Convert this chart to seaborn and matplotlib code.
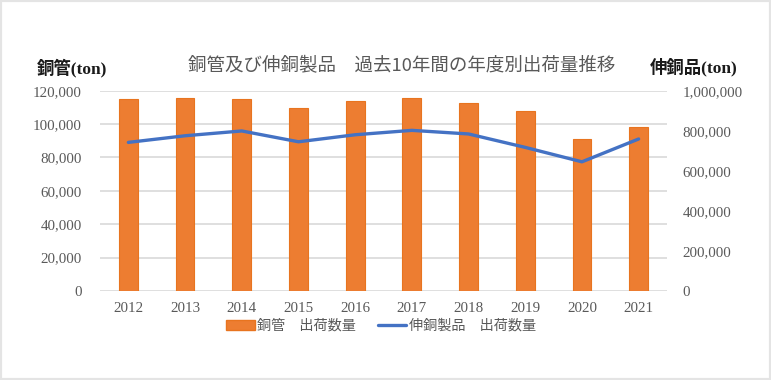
import matplotlib
matplotlib.use("Agg")
import matplotlib.pyplot as plt
import seaborn as sns
import pandas as pd
from matplotlib.patches import Patch, Rectangle
from matplotlib.lines import Line2D
from matplotlib.ticker import FuncFormatter

years = ["2012", "2013", "2014", "2015", "2016", "2017", "2018", "2019", "2020", "2021"]
pipe_tons = [115200, 115700, 114900, 109800, 113600, 115400, 112400, 107800, 91200, 98200]
brass_tons = [742000, 775000, 799000, 745000, 780000, 802000, 784000, 717000, 645000, 759000]
left_ticks = [0, 20000, 40000, 60000, 80000, 100000, 120000]
right_ticks = [0, 200000, 400000, 600000, 800000, 1000000]

title = "銅管及び伸銅製品　過去10年間の年度別出荷量推移"
left_label = "銅管(ton)"
right_label = "伸銅品(ton)"
bar_name = "銅管　出荷数量"
line_name = "伸銅製品　出荷数量"

df = pd.DataFrame({"year": years, "pipe": pipe_tons, "brass": brass_tons})

sns.set_theme(style="white")
plt.rcParams["font.family"] = ["Liberation Serif", "Noto Sans CJK JP", "DejaVu Sans"]

ORANGE = "#ED7D31"
BLUE = "#4472C4"
GRAY = "#595959"
GRID = "#D9D9D9"

fig = plt.figure(figsize=(7.71, 3.80), dpi=100)
fig.patch.set_facecolor("white")
ax = fig.add_axes([100 / 771, 1 - 291 / 380, 567 / 771, (291 - 90.7) / 380])

sns.barplot(data=df, x="year", y="pipe", ax=ax, color=ORANGE, width=0.33,
            saturation=1, edgecolor="#E8741F", linewidth=0.8, zorder=2)
ax.set_ylim(0, 120000)
ax.set_yticks(left_ticks)
ax.yaxis.set_major_formatter(FuncFormatter(lambda v, p: f"{int(v):,}"))
ax.grid(axis="y", color=GRID, linewidth=1.2, zorder=0)
ax.set_axisbelow(True)
for s in ax.spines.values():
    s.set_visible(False)
ax.set_xlabel("")
ax.set_ylabel("")
ax.tick_params(axis="y", length=0, pad=13, labelsize=10.8, labelcolor=GRAY)
ax.tick_params(axis="x", length=0, pad=8, labelsize=10.8, labelcolor=GRAY)

ax2 = ax.twinx()
sns.pointplot(data=df, x="year", y="brass", ax=ax2, color=BLUE, markers="",
              linewidth=2.4, errorbar=None)
ax2.set_ylim(0, 1000000)
ax2.set_yticks(right_ticks)
ax2.yaxis.set_major_formatter(FuncFormatter(lambda v, p: f"{int(v):,}"))
for s in ax2.spines.values():
    s.set_visible(False)
ax2.set_ylabel("")
ax2.set_xlabel("")
ax2.grid(False)
ax2.tick_params(axis="y", length=0, pad=11, labelsize=10.8, labelcolor=GRAY)
ax.set_xlim(-0.5, 9.5)

fig.text(402 / 771, 1 - 65 / 380, title, ha="center", va="center",
         fontsize=13.3, color=GRAY, family=["Noto Sans CJK JP", "DejaVu Sans"])
fig.text(37 / 771, 1 - 68 / 380, left_label, ha="left", va="center",
         fontsize=12.5, color="#1a1a1a", fontweight="bold")
fig.text(650 / 771, 1 - 67 / 380, right_label, ha="left", va="center",
         fontsize=12.5, color="#1a1a1a", fontweight="bold")

handles = [Patch(facecolor=ORANGE, edgecolor="#E8741F"),
           Line2D([], [], color=BLUE, linewidth=2.4)]
fig.legend(handles, [bar_name, line_name], loc="center", ncol=2,
           bbox_to_anchor=(381 / 771, 1 - 326 / 380), frameon=False,
           fontsize=10.2, labelcolor=GRAY, handlelength=2.0, handletextpad=0.2,
           columnspacing=1.5)

fig.patches.append(Rectangle((0, 0), 1, 1, transform=fig.transFigure, fill=False,
                             edgecolor="#E4E4E4", linewidth=3, zorder=10))

fig.savefig("out.png", dpi=100)
